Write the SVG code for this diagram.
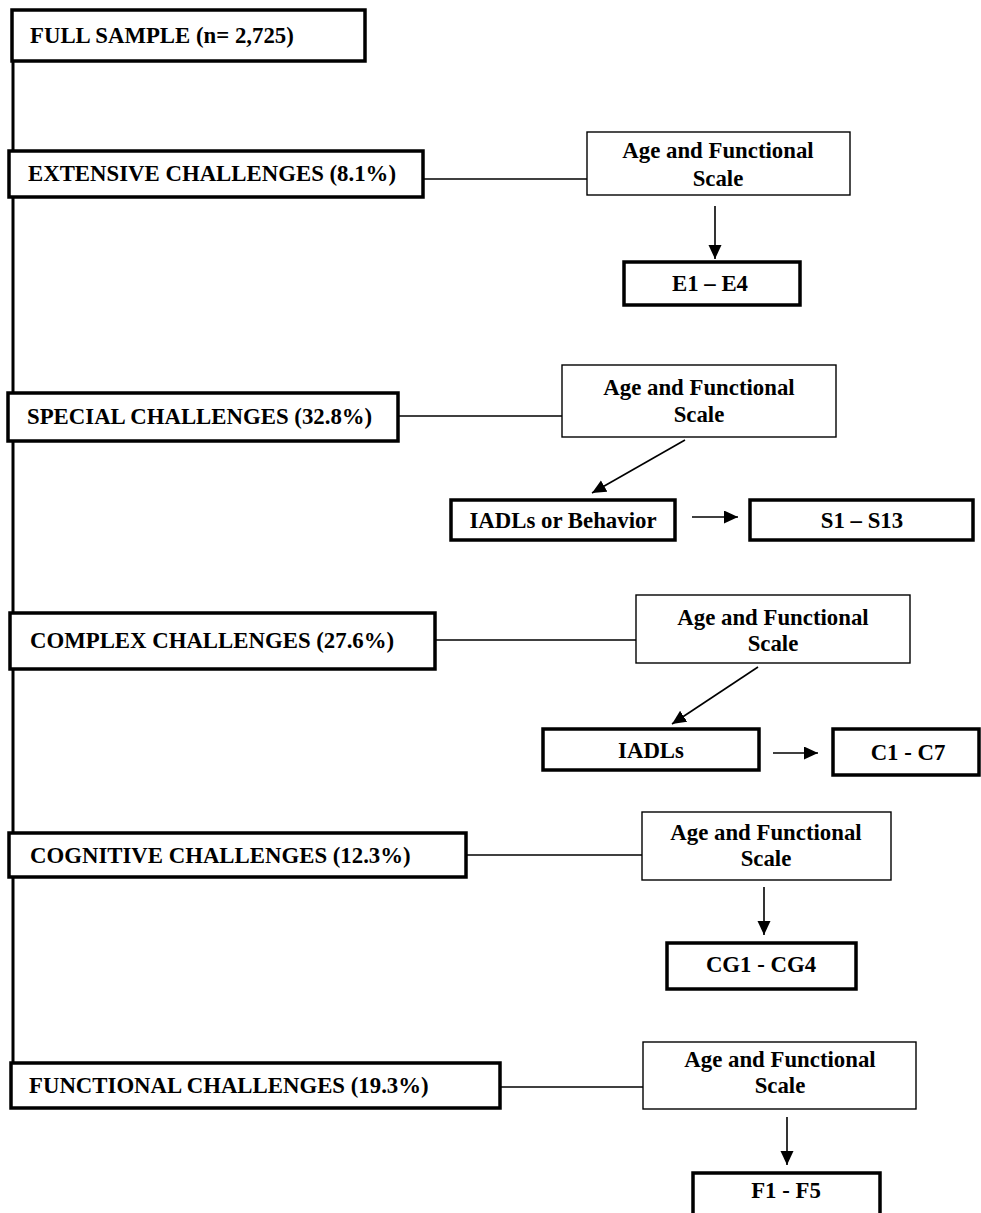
<svg xmlns="http://www.w3.org/2000/svg" width="981" height="1213" viewBox="0 0 981 1213">
<style>
text{font-family:"Liberation Serif","Times New Roman",serif;font-weight:bold;font-size:22.8px;fill:#000}
.thick{fill:#fff;stroke:#000;stroke-width:3.5}
.thin{fill:#fff;stroke:#000;stroke-width:1.4}
.c{text-anchor:middle}
.ln{stroke:#000;stroke-width:1.4;fill:none}
.ar{stroke:#000;stroke-width:1.6;fill:none;marker-end:url(#ah)}
</style>
<defs>
<marker id="ah" markerUnits="userSpaceOnUse" markerWidth="15" markerHeight="14" refX="14" refY="6.5" orient="auto">
<path d="M0,0 L14,6.5 L0,13 z" fill="#000"/>
</marker>
</defs>
<rect width="981" height="1213" fill="#fff"/>
<g id="connectors">
<line x1="13" y1="61" x2="13" y2="1063" stroke="#000" stroke-width="3"/>
<line class="ln" x1="423" y1="179" x2="587" y2="179"/>
<line class="ln" x1="398" y1="416" x2="562" y2="416"/>
<line class="ln" x1="435" y1="640" x2="636" y2="640"/>
<line class="ln" x1="466" y1="855" x2="642" y2="855"/>
<line class="ln" x1="500" y1="1087" x2="643" y2="1087"/>
<line class="ar" x1="715" y1="206" x2="715" y2="259"/>
<line class="ar" x1="685" y1="440" x2="592" y2="493"/>
<line class="ar" x1="692" y1="517" x2="738" y2="517"/>
<line class="ar" x1="758" y1="667" x2="672" y2="724"/>
<line class="ar" x1="773" y1="753" x2="818" y2="753"/>
<line class="ar" x1="764" y1="887" x2="764" y2="935"/>
<line class="ar" x1="787" y1="1117" x2="787" y2="1165"/>
</g>
<g id="full"><rect class="thick" x="12" y="10" width="353" height="51"/><text x="30" y="43">FULL SAMPLE (n= 2,725)</text></g>
<g id="extensive"><rect class="thick" x="9" y="151" width="414" height="46"/><text x="28" y="181">EXTENSIVE CHALLENGES (8.1%)</text></g>
<g id="age1"><rect class="thin" x="587" y="132" width="263" height="63"/><text class="c" x="718" y="158">Age and Functional</text><text class="c" x="718" y="186">Scale</text></g>
<g id="e1e4"><rect class="thick" x="624" y="262" width="176" height="43"/><text class="c" x="710" y="291">E1 – E4</text></g>
<g id="special"><rect class="thick" x="8" y="393" width="390" height="48"/><text x="27" y="424">SPECIAL CHALLENGES (32.8%)</text></g>
<g id="age2"><rect class="thin" x="562" y="365" width="274" height="72"/><text class="c" x="699" y="395">Age and Functional</text><text class="c" x="699" y="422">Scale</text></g>
<g id="iadlsbeh"><rect class="thick" x="451" y="500" width="224" height="40"/><text class="c" x="563" y="528">IADLs or Behavior</text></g>
<g id="s1s13"><rect class="thick" x="750" y="500" width="223" height="40"/><text class="c" x="862" y="528">S1 – S13</text></g>
<g id="complex"><rect class="thick" x="10" y="613" width="425" height="56"/><text x="30" y="648">COMPLEX CHALLENGES (27.6%)</text></g>
<g id="age3"><rect class="thin" x="636" y="595" width="274" height="68"/><text class="c" x="773" y="625">Age and Functional</text><text class="c" x="773" y="651">Scale</text></g>
<g id="iadls"><rect class="thick" x="543" y="729" width="216" height="41"/><text class="c" x="651" y="758">IADLs</text></g>
<g id="c1c7"><rect class="thick" x="833" y="729" width="146" height="46"/><text class="c" x="908" y="760">C1 - C7</text></g>
<g id="cognitive"><rect class="thick" x="9" y="833" width="457" height="44"/><text x="30" y="863">COGNITIVE CHALLENGES (12.3%)</text></g>
<g id="age4"><rect class="thin" x="642" y="812" width="249" height="68"/><text class="c" x="766" y="840">Age and Functional</text><text class="c" x="766" y="866">Scale</text></g>
<g id="cg"><rect class="thick" x="667" y="943" width="189" height="46"/><text class="c" x="761" y="972">CG1 - CG4</text></g>
<g id="functional"><rect class="thick" x="11" y="1063" width="489" height="45"/><text x="29" y="1093">FUNCTIONAL CHALLENGES (19.3%)</text></g>
<g id="age5"><rect class="thin" x="643" y="1042" width="273" height="67"/><text class="c" x="780" y="1067">Age and Functional</text><text class="c" x="780" y="1093">Scale</text></g>
<g id="f1f5"><rect class="thick" x="693" y="1173" width="187" height="45"/><text class="c" x="786" y="1198">F1 - F5</text></g>
</svg>
